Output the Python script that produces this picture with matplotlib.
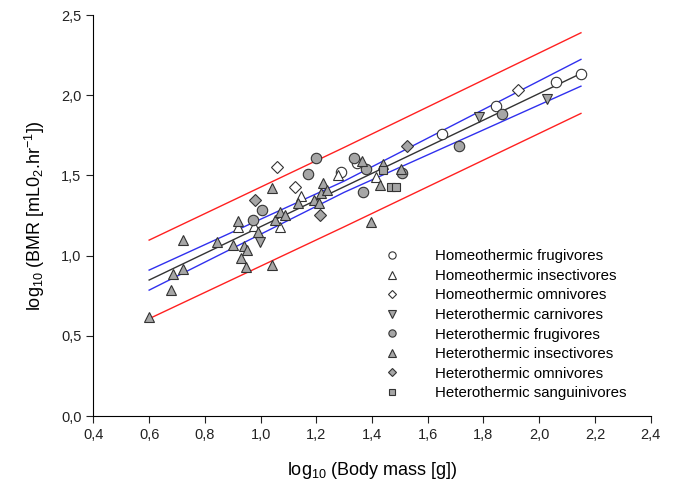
import numpy as np
import matplotlib.pyplot as plt
from matplotlib.ticker import FuncFormatter

plt.rcParams['font.family'] = ['Liberation Sans', 'DejaVu Sans']
plt.rcParams['mathtext.default'] = 'regular'

# data (log10 body mass, log10 BMR)
homeo_frug_x = [1.29, 1.345, 1.652, 1.845, 2.06, 2.15]
homeo_frug_y = [1.52, 1.575, 1.76, 1.935, 2.08, 2.135]

homeo_insect_x = [0.918, 0.977, 1.07, 1.145, 1.279, 1.414]
homeo_insect_y = [1.176, 1.185, 1.176, 1.372, 1.50, 1.492]

homeo_omni_x = [1.058, 1.124, 1.925]
homeo_omni_y = [1.55, 1.426, 2.032]

hetero_carn_x = [0.998, 1.785, 2.027]
hetero_carn_y = [1.087, 1.862, 1.974]

hetero_frug_x = [0.974, 1.004, 1.171, 1.20, 1.336, 1.377, 1.369, 1.507, 1.712, 1.866]
hetero_frug_y = [1.222, 1.284, 1.509, 1.61, 1.607, 1.538, 1.398, 1.513, 1.685, 1.881]

hetero_insect_x = [0.60, 0.677, 0.687, 0.722, 0.722, 0.842, 0.902, 0.918, 0.93, 0.941,
                   0.952, 0.948, 0.99, 1.04, 1.042, 1.052, 1.07, 1.088, 1.133, 1.193,
                   1.21, 1.217, 1.225, 1.237, 1.365, 1.396, 1.429, 1.441, 1.504]
hetero_insect_y = [0.615, 0.786, 0.885, 0.916, 1.097, 1.087, 1.068, 1.218, 0.988, 1.06,
                   1.035, 0.931, 1.149, 1.42, 0.94, 1.222, 1.274, 1.253, 1.326, 1.347,
                   1.326, 1.389, 1.455, 1.409, 1.592, 1.211, 1.44, 1.571, 1.538]

hetero_omni_x = [0.98, 1.213, 1.525]
hetero_omni_y = [1.347, 1.253, 1.683]

hetero_sang_x = [1.441, 1.468, 1.485]
hetero_sang_y = [1.534, 1.43, 1.43]

# regression line, confidence and prediction bands
fit_x = [0.6, 1.3, 2.15]
fit_y = [0.848, 1.43, 2.136]
ci_up = [0.91, 1.465, 2.224]
ci_lo = [0.785, 1.395, 2.057]
pi_up = [1.097, 1.675, 2.39]
pi_lo = [0.607, 1.18, 1.887]

fig = plt.figure(figsize=(6.77, 4.88), dpi=100)
ax = fig.add_axes([0.138, 0.1475, 0.823, 0.8215])

ax.plot(fit_x, pi_up, color='#ff2020', lw=1)
ax.plot(fit_x, pi_lo, color='#ff2020', lw=1)
ax.plot(fit_x, ci_up, color='#3030ee', lw=1)
ax.plot(fit_x, ci_lo, color='#3030ee', lw=1)
ax.plot(fit_x, fit_y, color='#333333', lw=1)

white = 'white'
grey = '#a6a6a6'
ms = 7.5
series = [
    (homeo_frug_x, homeo_frug_y, 'o', white, 'Homeothermic frugivores'),
    (homeo_insect_x, homeo_insect_y, '^', white, 'Homeothermic insectivores'),
    (homeo_omni_x, homeo_omni_y, 'D', white, 'Homeothermic omnivores'),
    (hetero_carn_x, hetero_carn_y, 'v', grey, 'Heterothermic carnivores'),
    (hetero_frug_x, hetero_frug_y, 'o', grey, 'Heterothermic frugivores'),
    (hetero_insect_x, hetero_insect_y, '^', grey, 'Heterothermic insectivores'),
    (hetero_omni_x, hetero_omni_y, 'D', grey, 'Heterothermic omnivores'),
    (hetero_sang_x, hetero_sang_y, 's', grey, 'Heterothermic sanguinivores'),
]
for x, y, m, fc, lab in series:
    size = ms * 0.8 if m in ('D', 's') else ms
    ax.plot(x, y, ls='none', marker=m, ms=size, mfc=fc, mec='#333333', mew=0.8,
            label=lab, zorder=3)

ax.set_xlim(0.4, 2.4)
ax.set_ylim(0, 2.5)
ax.set_xticks(np.arange(0.4, 2.41, 0.2))
ax.set_yticks(np.arange(0, 2.51, 0.5))
comma = FuncFormatter(lambda v, p: ('%.1f' % v).replace('.', ','))
ax.xaxis.set_major_formatter(comma)
ax.yaxis.set_major_formatter(comma)
ax.tick_params(labelsize=10.5, direction='out', length=5, colors='#222222')
ax.spines['top'].set_visible(False)
ax.spines['right'].set_visible(False)

ax.set_xlabel('log$_{10}$ (Body mass [g])', fontsize=13, labelpad=13)
ax.set_ylabel('log$_{10}$ (BMR [mL0$_2$.hr$^{-1}$])', fontsize=13, labelpad=10)

ax.legend(loc='upper left', bbox_to_anchor=(0.568, 0.489), bbox_transform=fig.transFigure,
          frameon=False, fontsize=10.8, markerscale=0.7, handlelength=1.0,
          handletextpad=2.35, labelspacing=0.37, borderpad=0, borderaxespad=0)

fig.savefig('out.png', dpi=100)
